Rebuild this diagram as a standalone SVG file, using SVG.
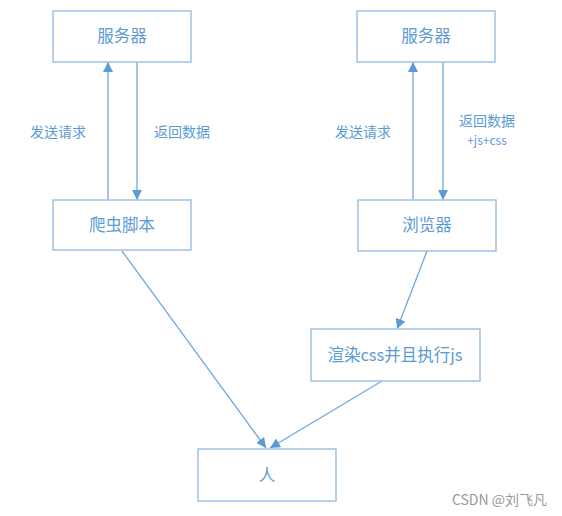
<svg xmlns="http://www.w3.org/2000/svg" width="562" height="516" viewBox="0 0 562 516">
<defs>
<marker id="ah" viewBox="0 0 10 10" refX="10" refY="5" markerWidth="10" markerHeight="10" markerUnits="userSpaceOnUse" orient="auto">
<path d="M0,0 L10,5 L0,10 z" fill="#5b9bd5"/>
</marker>
<style>
.box{fill:#fff;stroke:#9dc3e6;stroke-width:1.5}
.t{font-family:"Noto Sans CJK SC","Noto Sans",sans-serif;fill:#5b9bd5;text-anchor:middle}
.bt{font-size:16.5px}
.lt{font-size:14px}
.c{stroke:#6fa8dc;stroke-width:1.3;fill:none;marker-end:url(#ah)}
</style>
</defs>
<rect width="562" height="516" fill="#fff"/>
<g id="connectors">
<line class="c" x1="108" y1="200" x2="108" y2="62"/>
<line class="c" x1="137" y1="62" x2="137" y2="200"/>
<line class="c" x1="413" y1="200" x2="413" y2="62"/>
<line class="c" x1="443" y1="62" x2="443" y2="200"/>
<line class="c" x1="427" y1="251" x2="397" y2="329"/>
<line class="c" x1="122" y1="251" x2="266" y2="448"/>
<line class="c" x1="382" y1="381" x2="270" y2="448"/>
</g>
<g id="labels">
<text class="t lt" x="58" y="137">发送请求</text>
<text class="t lt" x="182" y="137">返回数据</text>
<text class="t lt" x="363" y="137">发送请求</text>
<text class="t lt" x="487" y="126">返回数据</text>
<text class="t" font-size="12" x="487" y="145">+js+css</text>
</g>
<g id="server1"><rect class="box" x="53" y="11" width="138" height="51"/><text class="t bt" x="122" y="42">服务器</text></g>
<g id="crawler"><rect class="box" x="53" y="200" width="138" height="50"/><text class="t bt" x="122" y="231">爬虫脚本</text></g>
<g id="server2"><rect class="box" x="357" y="11" width="138" height="51"/><text class="t bt" x="426" y="42">服务器</text></g>
<g id="browser"><rect class="box" x="358" y="200" width="138" height="51"/><text class="t bt" x="427" y="231">浏览器</text></g>
<g id="render"><rect class="box" x="311" y="329" width="169" height="52"/><text class="t bt" x="395" y="361">渲染css并且执行js</text></g>
<g id="person"><rect class="box" x="198" y="449" width="138" height="52"/><text class="t bt" x="267" y="481">人</text></g>
<text x="547" y="505" font-family="'Noto Sans CJK SC','Noto Sans',sans-serif" font-size="14" fill="#999" text-anchor="end">CSDN @刘飞凡</text>
</svg>
